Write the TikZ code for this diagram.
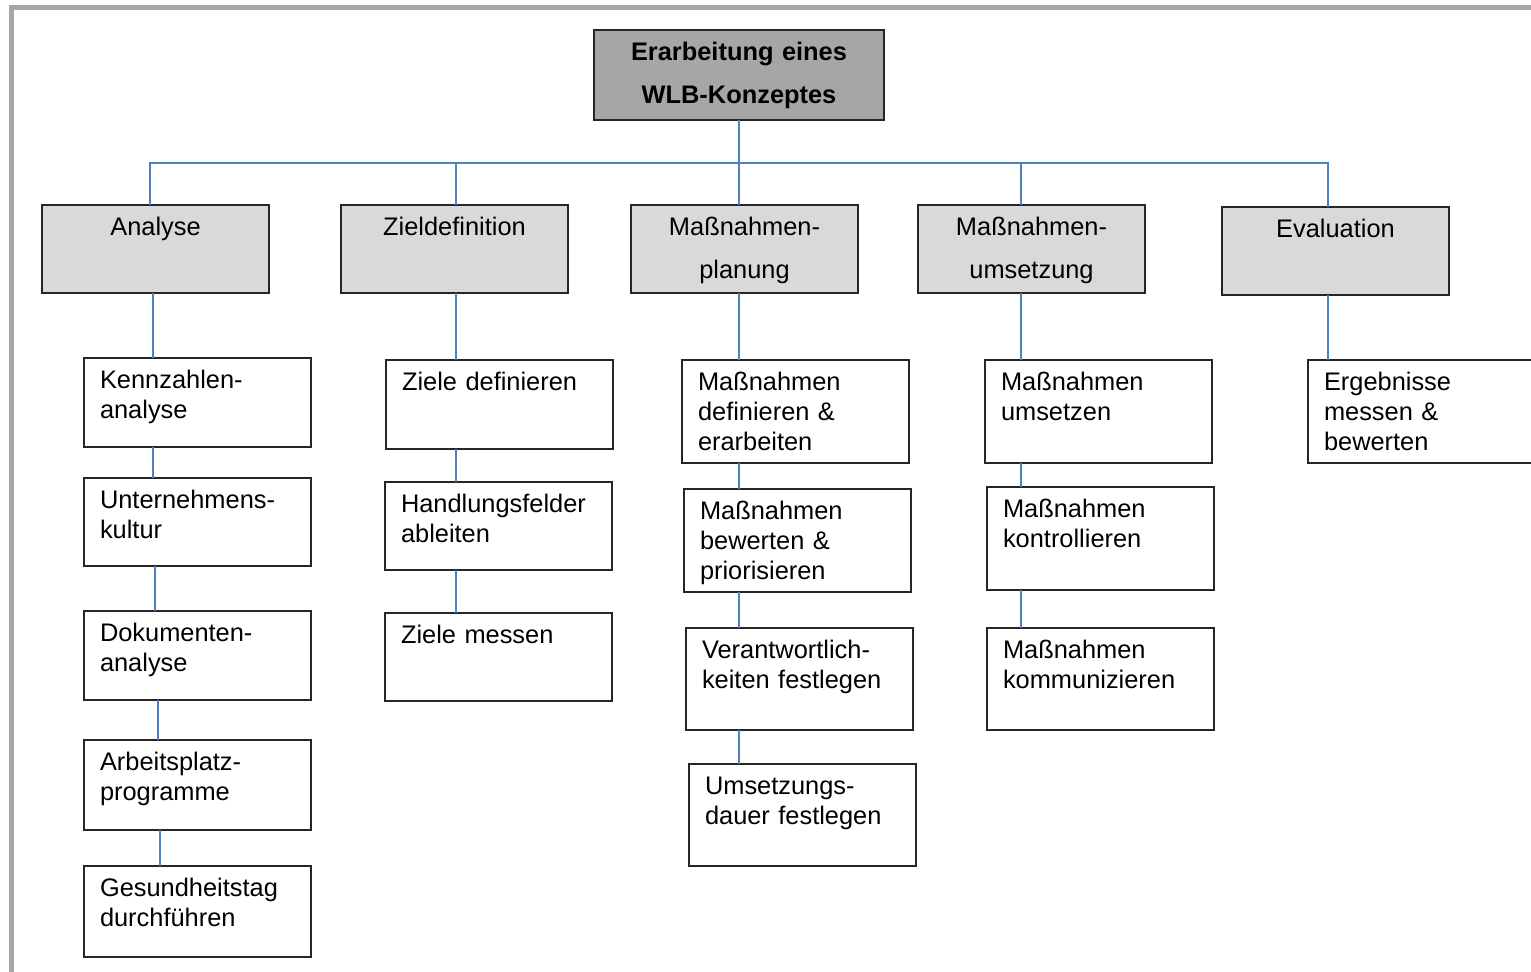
\documentclass[tikz,border=0pt]{standalone}
\usepackage{fontspec}
\setmainfont{Liberation Sans}
\definecolor{connblue}{RGB}{79,129,189}
\definecolor{boxline}{RGB}{38,38,38}
\definecolor{framegrey}{RGB}{166,166,166}
\definecolor{topfill}{RGB}{166,166,166}
\definecolor{lvlfill}{RGB}{217,217,217}
\hyphenpenalty=10000\relax
\exhyphenpenalty=10000\relax
\begin{document}
\begin{tikzpicture}[x=0.5pt,y=-0.5pt,
  basebox/.style={draw=boxline, line width=1.2pt, anchor=north west, outer sep=0pt, inner ysep=0pt, text height=15.2pt},
  topbox/.style={basebox, fill=topfill, inner xsep=0pt, text width=145pt, align=center, text depth=29.8pt,
    font=\fontsize{12.7pt}{21.5pt}\selectfont\bfseries},
  lvl/.style={basebox, fill=lvlfill, inner xsep=0pt, text width=113.5pt, align=center, text depth=28.8pt,
    font=\fontsize{12.7pt}{21.5pt}\selectfont},
  subbox/.style={basebox, fill=white, inner xsep=8pt, text width=97.5pt, align=left, text depth=#1,
    font=\fontsize{12.7pt}{15pt}\selectfont},
  conn/.style={draw=connblue, line width=1pt}
]
\path[use as bounding box, clip] (0,0) rectangle (1531,971);
\draw[framegrey, line width=2.5pt] (11,990) -- (11,7.5) -- (1560,7.5);
\coordinate (bar) at (0,163);

% top
\node[topbox] (top) at (594,30) {Erarbeitung eines\\WLB-Konzeptes};
% level 1
\node[lvl] (analyse) at (42,205) {Analyse};
\node[lvl] (zield) at (341,205) {Zieldefinition};
\node[lvl] (massplan) at (631,205) {Maßnahmen-\\planung};
\node[lvl] (massum) at (918,205) {Maßnahmen-\\umsetzung};
\node[lvl] (eval) at (1222,207) {Evaluation};

% column 1
\node[subbox=29.3pt] (kenn) at (84,358) {Kennzahlen-\\analyse};
\node[subbox=28.8pt] (unter) at (84,478) {Unternehmens-\\kultur};
\node[subbox=29.3pt] (dok) at (84,611) {Dokumenten-\\analyse};
\node[subbox=29.8pt] (arb) at (84,740) {Arbeitsplatz-\\programme};
\node[subbox=30.3pt] (ges) at (84,866) {Gesundheitstag\\durchführen};
% column 2
\node[subbox=29.3pt] (zdef) at (386,360) {Ziele definieren};
\node[subbox=28.8pt] (handl) at (385,482) {Handlungsfelder\\ableiten};
\node[subbox=28.8pt] (zmess) at (385,613) {Ziele messen};
% column 3
\node[subbox=36.3pt] (mdef) at (682,360) {Maßnahmen\\definieren \&\\erarbeiten};
\node[subbox=36.3pt] (mbew) at (684,489) {Maßnahmen\\bewerten \&\\priorisieren};
\node[subbox=35.8pt] (verant) at (686,628) {Verantwortlich-\\keiten festlegen};
\node[subbox=35.8pt] (umsd) at (689,764) {Umsetzungs-\\dauer festlegen};
% column 4
\node[subbox=36.3pt] (mums) at (985,360) {Maßnahmen\\umsetzen};
\node[subbox=36.3pt] (mkon) at (987,487) {Maßnahmen\\kontrollieren};
\node[subbox=35.8pt] (mkom) at (987,628) {Maßnahmen\\kommunizieren};
% column 5
\node[subbox=36.3pt] (ergeb) at (1308,360) {Ergebnisse\\messen \&\\bewerten};

% connectors top level
\draw[conn] (top.south) -- (massplan.north -| top.south);
\draw[conn] ([xshift=54pt]analyse.north west) -- ([xshift=54pt]analyse.north west |- bar)
  -- ([xshift=53pt]eval.north west |- bar) -- ([xshift=53pt]eval.north west);
\draw[conn] ([xshift=57.5pt]zield.north west) -- ([xshift=57.5pt]zield.north west |- bar);
\draw[conn] ([xshift=51.5pt]massum.north west) -- ([xshift=51.5pt]massum.north west |- bar);

% column 1
\draw[conn] ([xshift=55.5pt]analyse.south west) -- ([xshift=55.5pt]analyse.south west |- kenn.north);
\draw[conn] ([xshift=34.5pt]kenn.south west) -- ([xshift=34.5pt]kenn.south west |- unter.north);
\draw[conn] ([xshift=35.5pt]unter.south west) -- ([xshift=35.5pt]unter.south west |- dok.north);
\draw[conn] ([xshift=37pt]dok.south west) -- ([xshift=37pt]dok.south west |- arb.north);
\draw[conn] ([xshift=38pt]arb.south west) -- ([xshift=38pt]arb.south west |- ges.north);
% column 2
\draw[conn] ([xshift=57.5pt]zield.south west) -- ([xshift=57.5pt]zield.south west |- zdef.north);
\draw[conn] ([xshift=35pt]zdef.south west) -- ([xshift=35pt]zdef.south west |- handl.north);
\draw[conn] ([xshift=35.5pt]handl.south west) -- ([xshift=35.5pt]handl.south west |- zmess.north);
% column 3
\draw[conn] ([xshift=54pt]massplan.south west) -- ([xshift=54pt]massplan.south west |- mdef.north);
\draw[conn] ([xshift=28.5pt]mdef.south west) -- ([xshift=28.5pt]mdef.south west |- mbew.north);
\draw[conn] ([xshift=27.5pt]mbew.south west) -- ([xshift=27.5pt]mbew.south west |- verant.north);
\draw[conn] ([xshift=26.5pt]verant.south west) -- ([xshift=26.5pt]verant.south west |- umsd.north);
% column 4
\draw[conn] ([xshift=51.5pt]massum.south west) -- ([xshift=51.5pt]massum.south west |- mums.north);
\draw[conn] ([xshift=18pt]mums.south west) -- ([xshift=18pt]mums.south west |- mkon.north);
\draw[conn] ([xshift=17pt]mkon.south west) -- ([xshift=17pt]mkon.south west |- mkom.north);
% column 5
\draw[conn] ([xshift=53pt]eval.south west) -- ([xshift=53pt]eval.south west |- ergeb.north);
\end{tikzpicture}
\end{document}
